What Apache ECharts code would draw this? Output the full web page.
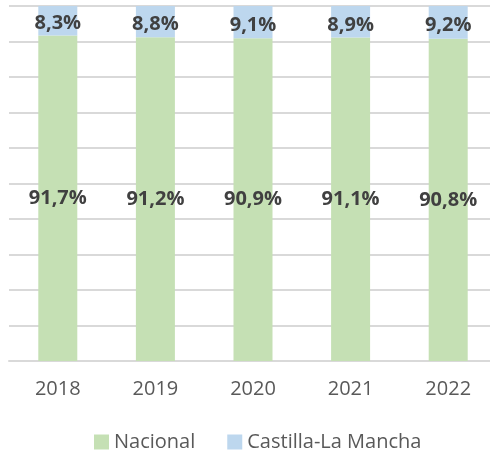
<!DOCTYPE html>
<html lang="es">
<head>
    <meta charset="UTF-8">
    <title>Nacional / Castilla-La Mancha</title>
    <style>html, body { margin: 0; padding: 0; background: #fff; overflow: hidden; }</style>
</head>
<body>
    <div id="main" style="width: 497px; height: 457px;"></div>
</body>
<script src="https://cdn.jsdelivr.net/npm/echarts@6/dist/echarts.min.js"></script>
<script>
    var years = ['2018', '2019', '2020', '2021', '2022'];
    var nacional = [91.7, 91.2, 90.9, 91.1, 90.8];
    var castilla = [8.3, 8.8, 9.1, 8.9, 9.2];

    function pct(p) {
        return p.value.toFixed(1).replace('.', ',') + '%';
    }

    function makeLabel(dy) {
        return {
            show: true,
            position: 'inside',
            offset: [0, dy],
            formatter: pct,
            color: '#404040',
            fontFamily: 'Open Sans',
            fontWeight: 'bold',
            fontSize: 20
        };
    }

    var myChart = echarts.init(document.getElementById('main'));
    var option = {
        animation: false,
        legend: {
            data: ['Nacional', 'Castilla-La Mancha'],
            left: 89,
            bottom: 0,
            itemWidth: 15,
            itemHeight: 15,
            itemGap: 32,
            icon: 'rect',
            textStyle: { color: '#595959', fontFamily: 'Open Sans', fontSize: 20 }
        },
        grid: { left: 9, right: 0, top: 6, bottom: 96 },
        xAxis: {
            type: 'category',
            data: years,
            axisTick: { show: false },
            axisLine: { lineStyle: { color: '#D9D9D9', width: 2 } },
            axisLabel: { color: '#595959', fontFamily: 'Open Sans', fontSize: 20, margin: 18 }
        },
        yAxis: {
            type: 'value',
            min: 0,
            max: 100,
            interval: 10,
            axisLabel: { show: false },
            axisLine: { show: false },
            axisTick: { show: false },
            splitLine: { lineStyle: { color: '#D9D9D9', width: 2 } }
        },
        series: [{
            name: 'Nacional',
            type: 'bar',
            stack: 'total',
            barWidth: 39,
            data: nacional,
            itemStyle: { color: '#C5E0B4' },
            label: makeLabel(0)
        }, {
            name: 'Castilla-La Mancha',
            type: 'bar',
            stack: 'total',
            barWidth: 39,
            data: castilla,
            itemStyle: { color: '#BDD7EE' },
            label: makeLabel(3)
        }]
    };
    myChart.setOption(option);
</script>
</html>
